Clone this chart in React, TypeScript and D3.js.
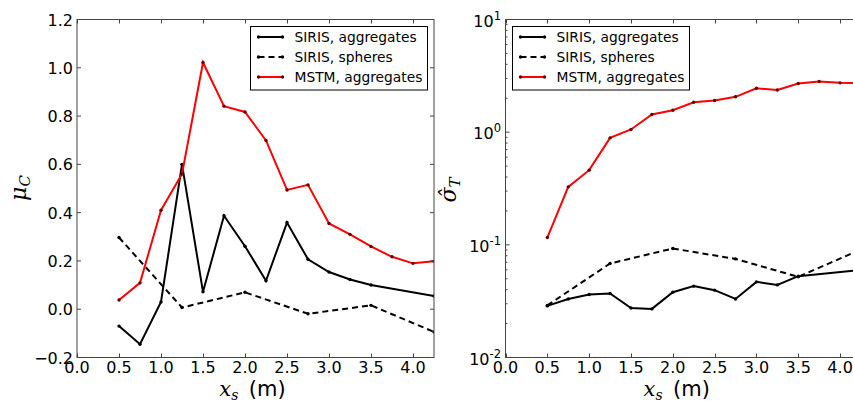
import { useEffect, useRef } from 'react'
import * as d3 from 'd3'

// x positions (m)
const xAgg = [0.5, 0.75, 1.0, 1.25, 1.5, 1.75, 2.0, 2.25, 2.5, 2.75, 3.0, 3.25, 3.5, 4.25]
const xSph = [0.5, 1.25, 2.0, 2.75, 3.5, 4.25]
const xMstm = [0.5, 0.75, 1.0, 1.25, 1.5, 1.75, 2.0, 2.25, 2.5, 2.75, 3.0, 3.25, 3.5, 3.75, 4.0, 4.25]

// left panel: mu_C
const sirisAggMu = [-0.07, -0.145, 0.03, 0.6, 0.072, 0.387, 0.261, 0.118, 0.359, 0.207, 0.154, 0.123, 0.1, 0.055]
const sirisSphMu = [0.297, 0.007, 0.07, -0.019, 0.016, -0.094]
const mstmMu = [0.038, 0.109, 0.41, 0.56, 1.022, 0.841, 0.817, 0.699, 0.494, 0.515, 0.355, 0.31, 0.26, 0.217, 0.19, 0.199]

// right panel: sigma_T
const sirisAggSigma = [0.0287, 0.0331, 0.0362, 0.037, 0.0275, 0.027, 0.038, 0.043, 0.0396, 0.0331, 0.0469, 0.0441, 0.0527, 0.0597]
const sirisSphSigma = [0.029, 0.0683, 0.0928, 0.075, 0.052, 0.091]
const mstmSigma = [0.116, 0.327, 0.46, 0.889, 1.057, 1.435, 1.567, 1.845, 1.91, 2.06, 2.45, 2.37, 2.7, 2.82, 2.74, 2.72]

const xTicks = [0, 0.5, 1, 1.5, 2, 2.5, 3, 3.5, 4]
const muTicks = [-0.2, 0, 0.2, 0.4, 0.6, 0.8, 1.0, 1.2]
const sigmaTicks = [0.01, 0.1, 1, 10]

const legendNames = ['SIRIS, aggregates', 'SIRIS, spheres', 'MSTM, aggregates']

const FONT = 'DejaVu Sans, sans-serif'
const MATH = 'DejaVu Serif, serif'

export default function App() {
  const svgRef = useRef<SVGSVGElement | null>(null)

  useEffect(() => {
    if (!svgRef.current) return
    const width = 853
    const height = 403

    d3.select(svgRef.current).selectAll('*').remove()
    const svg = d3.select(svgRef.current).attr('width', width).attr('height', height)
    svg.append('rect').attr('width', width).attr('height', height).attr('fill', '#fff')

    const drawPanel = (opts: {
      id: string
      x0: number
      x1: number
      y0: number
      y1: number
      y: any
      yTicks: number[]
      minorTicks: number[]
      tickLabel: (g: any, v: number, yy: number) => void
      series: { xs: number[]; ys: number[]; color: string; dot: string; dash: string | null }[]
      legendX: number
    }) => {
      const x = d3.scaleLinear().domain([0, 4.25]).range([opts.x0, opts.x1])
      const y = opts.y
      const g = svg.append('g')

      g.append('clipPath')
        .attr('id', opts.id)
        .append('rect')
        .attr('x', opts.x0)
        .attr('y', opts.y0)
        .attr('width', opts.x1 - opts.x0)
        .attr('height', opts.y1 - opts.y0)

      const plot = g.append('g').attr('clip-path', `url(#${opts.id})`)
      const line = d3
        .line<[number, number]>()
        .x(d => x(d[0]))
        .y(d => y(d[1]))

      opts.series.forEach(s => {
        const pts: [number, number][] = s.xs.map((v, i) => [v, s.ys[i]])
        plot
          .append('path')
          .attr('d', line(pts))
          .attr('fill', 'none')
          .attr('stroke', s.color)
          .attr('stroke-width', 2)
          .attr('stroke-dasharray', s.dash)
        plot
          .selectAll(null)
          .data(pts)
          .enter()
          .append('circle')
          .attr('cx', d => x(d[0]))
          .attr('cy', d => y(d[1]))
          .attr('r', 1.7)
          .attr('fill', s.dot)
      })

      // frame
      g.append('rect')
        .attr('x', opts.x0)
        .attr('y', opts.y0)
        .attr('width', opts.x1 - opts.x0)
        .attr('height', opts.y1 - opts.y0)
        .attr('fill', 'none')
        .attr('stroke', '#444')
        .attr('stroke-width', 1)

      // x ticks (inward, top & bottom)
      xTicks.forEach(t => {
        const xx = Math.round(x(t)) + 0.5
        g.append('line').attr('x1', xx).attr('x2', xx).attr('y1', opts.y1).attr('y2', opts.y1 - 4).attr('stroke', '#444')
        g.append('line').attr('x1', xx).attr('x2', xx).attr('y1', opts.y0).attr('y2', opts.y0 + 4).attr('stroke', '#444')
        g.append('text')
          .attr('x', x(t))
          .attr('y', opts.y1 + 15.5)
          .attr('text-anchor', 'middle')
          .style('font-family', FONT)
          .style('font-size', '16px')
          .text(t.toFixed(1))
      })

      // y ticks (inward, left & right)
      opts.yTicks.forEach(t => {
        const yy = y(t)
        g.append('line').attr('x1', opts.x0).attr('x2', opts.x0 + 4).attr('y1', yy).attr('y2', yy).attr('stroke', '#444')
        g.append('line').attr('x1', opts.x1).attr('x2', opts.x1 - 4).attr('y1', yy).attr('y2', yy).attr('stroke', '#444')
        opts.tickLabel(g, t, yy)
      })
      opts.minorTicks.forEach(t => {
        const yy = y(t)
        g.append('line').attr('x1', opts.x0).attr('x2', opts.x0 + 2).attr('y1', yy).attr('y2', yy).attr('stroke', '#444')
        g.append('line').attr('x1', opts.x1).attr('x2', opts.x1 - 2).attr('y1', yy).attr('y2', yy).attr('stroke', '#444')
      })

      // x label
      const xl = g
        .append('text')
        .attr('x', (opts.x0 + Math.min(opts.x1, 861 - 7)) / 2 - 3)
        .attr('y', opts.y1 + 38.5)
        .attr('text-anchor', 'middle')
        .style('font-size', '21px')
      xl.append('tspan').style('font-family', MATH).style('font-style', 'italic').text('x')
      xl.append('tspan').style('font-family', MATH).style('font-style', 'italic').style('font-size', '14px').attr('dy', 4).text('s')
      xl.append('tspan').style('font-family', FONT).attr('dy', -4).text('\u2002(m)')

      // legend
      const lx = opts.legendX
      g.append('rect')
        .attr('x', lx)
        .attr('y', 26.5)
        .attr('width', 177)
        .attr('height', 63.5)
        .attr('fill', '#fff')
        .attr('stroke', '#000')
        .attr('stroke-width', 1)
      opts.series.forEach((s, i) => {
        const ly = 37 + i * 20
        g.append('line')
          .attr('x1', lx + 8)
          .attr('x2', lx + 32)
          .attr('y1', ly)
          .attr('y2', ly)
          .attr('stroke', s.color)
          .attr('stroke-width', 2)
          .attr('stroke-dasharray', s.dash ? '6,4' : null)
        ;[lx + 8, lx + 32].forEach(cx => {
          g.append('circle').attr('cx', cx).attr('cy', ly).attr('r', 1.7).attr('fill', s.dot)
        })
        g.append('text')
          .attr('x', lx + 44)
          .attr('y', ly + 5)
          .style('font-family', FONT)
          .style('font-size', '13.8px')
          .text(legendNames[i])
      })
    }

    // left panel
    const yMu = d3.scaleLinear().domain([-0.2, 1.2]).range([357.5, 19.5])
    drawPanel({
      id: 'clipL',
      x0: 77,
      x1: 434,
      y0: 19.5,
      y1: 357.5,
      y: yMu,
      yTicks: muTicks,
      minorTicks: [],
      tickLabel: (g, v, yy) => {
        g.append('text')
          .attr('x', 73)
          .attr('y', yy + 6)
          .attr('text-anchor', 'end')
          .style('font-family', FONT)
          .style('font-size', '16px')
          .text(v < 0 ? '\u2212' + Math.abs(v).toFixed(1) : v.toFixed(1))
      },
      series: [
        { xs: xAgg, ys: sirisAggMu, color: '#000', dot: '#000', dash: null },
        { xs: xSph, ys: sirisSphMu, color: '#000', dot: '#000', dash: '6,4' },
        { xs: xMstm, ys: mstmMu, color: '#f00', dot: '#600', dash: null },
      ],
      legendX: 250.5,
    })

    // right panel
    const ySig = d3.scaleLog().domain([0.01, 10]).range([357.5, 19.5])
    const minor: number[] = []
    ;[0.01, 0.1, 1].forEach(d => {
      for (let k = 2; k <= 9; k++) minor.push(d * k)
    })
    drawPanel({
      id: 'clipR',
      x0: 505.5,
      x1: 861,
      y0: 19.5,
      y1: 357.5,
      y: ySig,
      yTicks: sigmaTicks,
      minorTicks: minor,
      tickLabel: (g, v, yy) => {
        const e = Math.round(Math.log10(v))
        const t = g
          .append('text')
          .attr('x', 501)
          .attr('y', yy + 7)
          .attr('text-anchor', 'end')
          .style('font-family', FONT)
          .style('font-size', '16px')
        t.append('tspan').text('10')
        t.append('tspan').attr('dy', -7).style('font-size', '11.5px').text(e < 0 ? '-' + Math.abs(e) : String(e))
      },
      series: [
        { xs: xAgg, ys: sirisAggSigma, color: '#000', dot: '#000', dash: null },
        { xs: xSph, ys: sirisSphSigma, color: '#000', dot: '#000', dash: '6,4' },
        { xs: xMstm, ys: mstmSigma, color: '#f00', dot: '#600', dash: null },
      ],
      legendX: 512.5,
    })

    // y labels
    const muLabel = svg
      .append('text')
      .attr('transform', 'translate(26, 188) rotate(-90)')
      .attr('text-anchor', 'middle')
      .style('font-size', '22px')
    muLabel.append('tspan').style('font-family', MATH).style('font-style', 'italic').text('\u03bc')
    muLabel.append('tspan').style('font-family', MATH).style('font-style', 'italic').style('font-size', '15px').attr('dy', 4).text('C')

    const sigLabel = svg
      .append('text')
      .attr('transform', 'translate(456, 190) rotate(-90)')
      .attr('text-anchor', 'middle')
      .style('font-size', '22px')
    sigLabel.append('tspan').style('font-family', MATH).style('font-style', 'italic').text('\u03c3\u0302')
    sigLabel.append('tspan').style('font-family', MATH).style('font-style', 'italic').style('font-size', '15px').attr('dy', 4).text('T')
  }, [])

  return (
    <div style={{ position: 'fixed', left: 0, top: 0, width: 853, height: 403, overflow: 'hidden' }}>
      <svg ref={svgRef} style={{ display: 'block' }}></svg>
    </div>
  )
}
